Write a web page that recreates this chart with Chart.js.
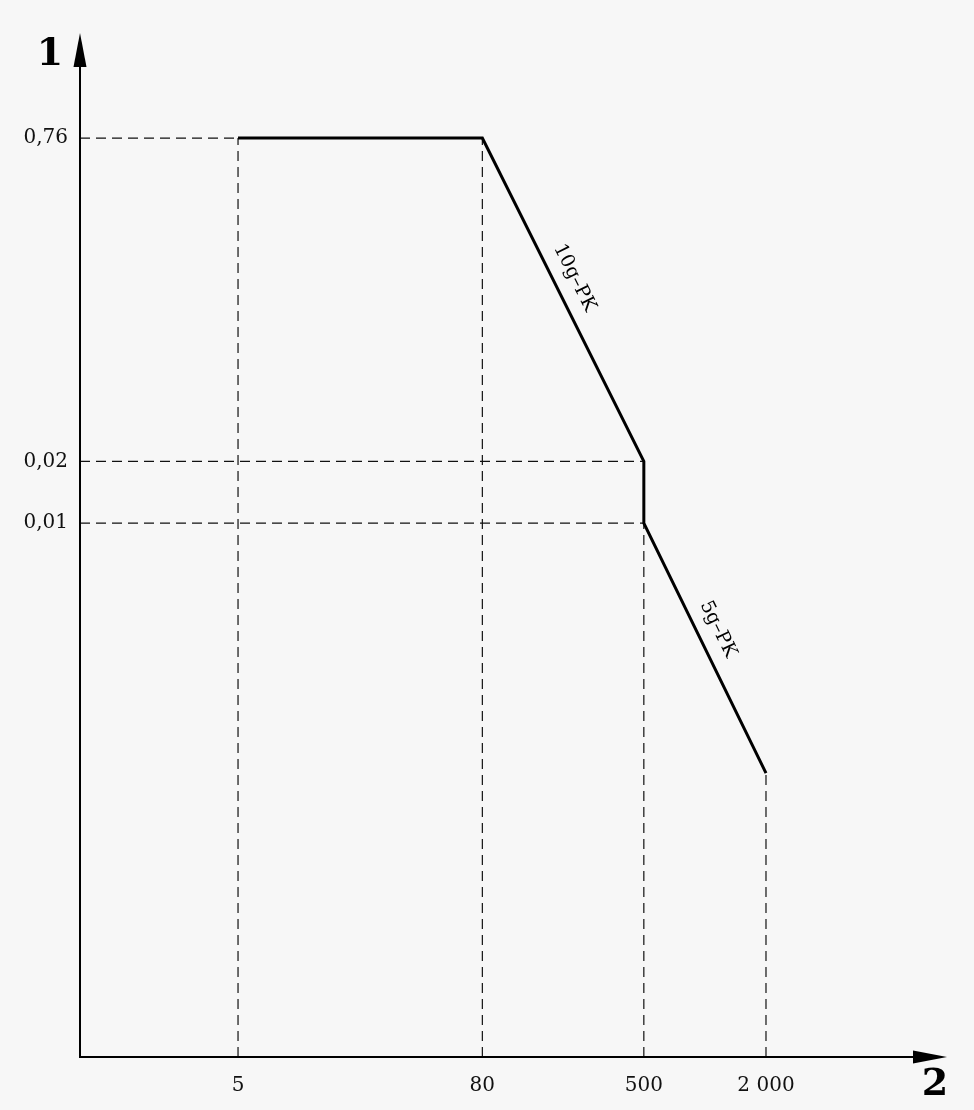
<!DOCTYPE html>
<html>
<head>
<meta charset="utf-8">
<script src="https://cdn.jsdelivr.net/npm/chart.js@4/dist/chart.umd.min.js"></script>
<style>
  html, body { margin: 0; padding: 0; background: #f7f7f7; }
  #wrap { width: 974px; height: 1110px; }
</style>
</head>
<body>
<div id="wrap"><canvas id="c" width="974" height="1110"></canvas></div>
<script>
// ---- data ----
const freq = [5, 80, 500, 500, 2000];
const disp = [0.76, 0.76, 0.02, 0.01, 0.0006];
const xTicks = [5, 80, 500, 2000];
const xTickLabels = ['5', '80', '500', '2 000'];
const yTicks = [0.76, 0.02, 0.01];
const yTickLabels = ['0,76', '0,02', '0,01'];
const segLabelText = ['10g–PK', '5g–PK'];
const segLabelStart = [1, 3];
const xAxisTitle = '2';
const yAxisTitle = '1';
const X_MIN = 0.832, X_MAX = 15600;
const Y_MIN = 2.46e-5, Y_MAX = 2.48;

// guide lines built from the data
const guides = [];
xTicks.forEach(x => {
  const ys = disp.filter((d, i) => freq[i] === x);
  guides.push([{x: x, y: Y_MIN}, {x: x, y: Math.max(...ys)}]);
});
yTicks.forEach(y => {
  const xs = freq.filter((f, i) => disp[i] === y);
  guides.push([{x: X_MIN, y: y}, {x: Math.min(...xs), y: y}]);
});

const FONT = "'DejaVu Serif', serif";

const datasets = [{
  data: freq.map((f, i) => ({x: f, y: disp[i]})),
  borderColor: '#000',
  borderWidth: 3,
  pointRadius: 0,
  fill: false,
  tension: 0,
  borderJoinStyle: 'miter',
  clip: false
}].concat(guides.map(g => ({
  data: g,
  borderColor: '#111',
  borderWidth: 1.2,
  borderDash: [10, 6],
  pointRadius: 0,
  fill: false,
  tension: 0,
  clip: false
})));

const decor = {
  id: 'decor',
  beforeDraw(chart) {
    const ctx = chart.ctx;
    ctx.save();
    ctx.fillStyle = '#f7f7f7';
    ctx.fillRect(0, 0, chart.width, chart.height);
    ctx.restore();
  },
  afterDraw(chart) {
    const ctx = chart.ctx;
    const a = chart.chartArea;
    ctx.save();
    ctx.strokeStyle = '#000';
    ctx.fillStyle = '#000';
    ctx.lineWidth = 2;
    const ah = 34, aw = 6.5;
    // axes
    ctx.beginPath();
    ctx.moveTo(a.left, a.top + ah - 2);
    ctx.lineTo(a.left, a.bottom);
    ctx.lineTo(a.right - ah + 2, a.bottom);
    ctx.stroke();
    // y arrow
    ctx.beginPath();
    ctx.moveTo(a.left, a.top);
    ctx.lineTo(a.left - aw, a.top + ah);
    ctx.lineTo(a.left + aw, a.top + ah);
    ctx.closePath();
    ctx.fill();
    // x arrow
    ctx.beginPath();
    ctx.moveTo(a.right, a.bottom);
    ctx.lineTo(a.right - ah, a.bottom - aw);
    ctx.lineTo(a.right - ah, a.bottom + aw);
    ctx.closePath();
    ctx.fill();
    // axis titles
    ctx.font = "bold 38px " + FONT;
    ctx.textAlign = 'center';
    ctx.textBaseline = 'middle';
    ctx.fillText(yAxisTitle, a.left - 30, a.top + 22);
    ctx.fillText(xAxisTitle, a.right - 12, a.bottom + 28);
    // segment labels
    const xs = chart.scales.x, ys = chart.scales.y;
    ctx.font = "19px " + FONT;
    segLabelText.forEach((t, k) => {
      const i = segLabelStart[k];
      const x1 = xs.getPixelForValue(freq[i]), y1 = ys.getPixelForValue(disp[i]);
      const x2 = xs.getPixelForValue(freq[i + 1]), y2 = ys.getPixelForValue(disp[i + 1]);
      const ang = Math.atan2(y2 - y1, x2 - x1);
      const fr = 0.46;
      const px = x1 + (x2 - x1) * fr, py = y1 + (y2 - y1) * fr;
      ctx.save();
      ctx.translate(px, py);
      ctx.rotate(ang);
      ctx.textAlign = 'center';
      ctx.textBaseline = 'middle';
      ctx.fillText(t, 0, -20);
      ctx.restore();
    });
    ctx.restore();
  }
};

new Chart(document.getElementById('c'), {
  type: 'line',
  data: { datasets },
  plugins: [decor],
  options: {
    responsive: false,
    animation: false,
    layout: { padding: { top: 33, right: 27, left: 0, bottom: 0 } },
    plugins: { legend: { display: false }, tooltip: { enabled: false } },
    scales: {
      x: {
        type: 'logarithmic',
        min: X_MIN, max: X_MAX,
        grid: { display: false },
        border: { display: false },
        afterBuildTicks: s => { s.ticks = xTicks.map(v => ({value: v})); },
        afterFit: s => { s.height = 53; },
        ticks: {
          autoSkip: false, maxRotation: 0, minRotation: 0, padding: 9,
          color: '#111',
          font: { family: FONT, size: 20 },
          callback: (v, i) => xTickLabels[i]
        }
      },
      y: {
        type: 'logarithmic',
        min: Y_MIN, max: Y_MAX,
        grid: { display: false },
        border: { display: false },
        afterBuildTicks: s => { s.ticks = yTicks.map(v => ({value: v})); },
        afterFit: s => { s.width = 80; },
        ticks: {
          autoSkip: false, padding: 4,
          color: '#111',
          font: { family: FONT, size: 20 },
          callback: (v, i) => yTickLabels[i]
        }
      }
    }
  }
});
</script>
</body>
</html>
